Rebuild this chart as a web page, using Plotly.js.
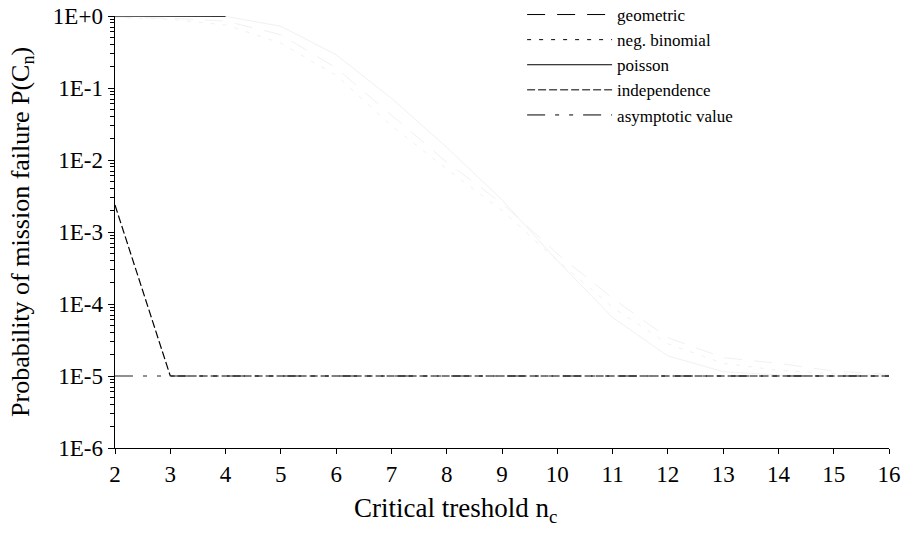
<!DOCTYPE html>
<html>
<head>
<meta charset="utf-8">
<script src="https://cdn.plot.ly/plotly-3.0.1.min.js"></script>
<style>html,body{margin:0;padding:0;background:#fff;}#chart{width:906px;height:533px;}</style>
</head>
<body>
<div id="chart"></div>
<script>
var nc = [2,3,4,5,6,7,8,9,10,11,12,13,14,15,16];
var geometric   = [0.97,0.93,0.85,0.55,0.19,0.042,0.0093,0.0025,0.0005,0.00012,0.000034,0.000018,0.000015,0.0000117,0.0000105];
var negBinomial = [0.95,0.9,0.75,0.42,0.15,0.03,0.0075,0.002,0.0004,0.00009,0.000028,0.000015,0.000012,0.0000108,0.0000102];
var poisson     = [1,1,0.99,0.72,0.29,0.072,0.015,0.0028,0.0004,0.000065,0.000019,0.0000115,0.0000103,0.00001,0.00001];
var independence= [0.00237,0.00001,0.00001,0.00001,0.00001,0.00001,0.00001,0.00001,0.00001,0.00001,0.00001,0.00001,0.00001,0.00001,0.00001];
var asymptotic  = [0.00001,0.00001,0.00001,0.00001,0.00001,0.00001,0.00001,0.00001,0.00001,0.00001,0.00001,0.00001,0.00001,0.00001,0.00001];
var yTickVals = [1,0.1,0.01,0.001,0.0001,0.00001,0.000001];
var yTickText = ["1E+0","1E-1","1E-2","1E-3","1E-4","1E-5","1E-6"];
var xTickVals = nc;
var xTitle = 'Critical treshold n<sub>c</sub>';
var yTitle = 'Probability of mission failure P(C<sub>n</sub>)';

var names = ["geometric","neg. binomial","poisson","independence","asymptotic value"];
var dashes = ["18px,12px","4px,8px","solid","8px,3px","18px,10px,4px,10px,4px,10px"];

var minorVals = [];
for (var k = -6; k < 0; k++) { for (var m = 2; m <= 9; m++) { minorVals.push(m * Math.pow(10, k)); } }

var faint = '#f1f1f1';
var traces = [];
[[geometric,0],[negBinomial,1],[poisson,2]].forEach(function(p){
  traces.push({x: nc, y: p[0], type:'scatter', mode:'lines', showlegend:false, hoverinfo:'skip',
    line:{color:faint, width:1, dash:dashes[p[1]]}});
});
traces.push({x: nc.slice(0,3), y: poisson.slice(0,3), type:'scatter', mode:'lines', showlegend:false, hoverinfo:'skip',
  line:{color:'#333', width:1.3}});
traces.push({x: nc, y: asymptotic, type:'scatter', mode:'lines', showlegend:false,
  line:{color:'#222', width:1.2, dash:dashes[4]}});
traces.push({x: nc, y: independence, type:'scatter', mode:'lines', showlegend:false,
  line:{color:'#000', width:1.2, dash:dashes[3]}});
names.forEach(function(n,i){
  traces.push({x:[null], y:[null], type:'scatter', mode:'lines', name:n,
    line:{color:'#000', width:1, dash:dashes[i]}});
});

var font = 'Liberation Serif';
var layout = {
  width: 906, height: 533,
  margin: {l:115, r:17, t:16, b:85, autoexpand:false},
  paper_bgcolor:'#fff', plot_bgcolor:'#fff',
  font: {family: font, size: 20, color:'#000'},
  showlegend: true,
  legend: {x:0.526, y:1.044, xanchor:'left', yanchor:'top', bgcolor:'rgba(0,0,0,0)',
    font:{family:font, size:17, color:'#000'}, itemwidth:85, tracegroupgap:0},
  xaxis: {range:[2,16], tickmode:'array', tickvals:xTickVals, ticks:'outside', ticklen:5,
    tickcolor:'#000', showline:true, linecolor:'#000', linewidth:1.2, showgrid:false, zeroline:false,
    tickfont:{family:font, size:23}, fixedrange:true, automargin:false},
  yaxis: {type:'log', range:[-6,0], tickmode:'array', tickvals:yTickVals, ticktext:yTickText,
    ticks:'outside', ticklen:6, tickcolor:'#000', showline:true, linecolor:'#000', linewidth:1.5,
    showgrid:false, zeroline:false, tickfont:{family:font, size:23}, automargin:false,
    minor:{tickmode:'array', tickvals:minorVals, ticks:'outside', ticklen:4, tickcolor:'#000', showgrid:false}},
  annotations: [
    {text:xTitle, xref:'paper', yref:'paper', x:0.44, y:-0.1435, xanchor:'center', yanchor:'middle',
      showarrow:false, font:{family:font, size:27, color:'#000'}},
    {text:yTitle, xref:'paper', yref:'paper', x:-0.1202, y:0.5, xanchor:'center', yanchor:'middle',
      textangle:-90, showarrow:false, font:{family:font, size:26, color:'#000'}}
  ]
};
Plotly.newPlot('chart', traces, layout, {staticPlot:true});
</script>
</body>
</html>
